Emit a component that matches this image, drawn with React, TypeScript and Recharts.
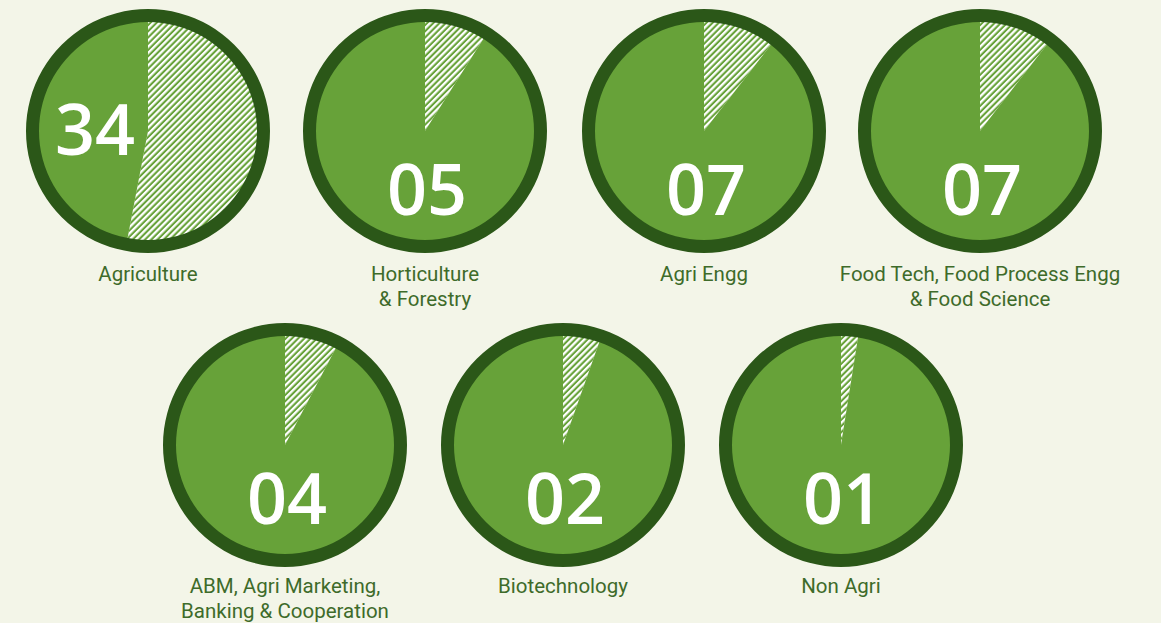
import { PieChart, Pie, Cell } from 'recharts';

const categories = [
  ['Agriculture'],
  ['Horticulture', '& Forestry'],
  ['Agri Engg'],
  ['Food Tech, Food Process Engg', '& Food Science'],
  ['ABM, Agri Marketing,', 'Banking & Cooperation'],
  ['Biotechnology'],
  ['Non Agri'],
];
// counts printed inside each circle
const counts = [34, 5, 7, 7, 4, 2, 1];
// hatched share of each circle (percent)
const shares = [53, 9, 10.5, 10.5, 7.7, 5.4, 2.5];

const BG = '#f3f5e8';
const RING = '#2b5718';
const FILL = '#67a239';
const TEXT = '#3e6b2a';

const SIZE = 260;
const R_OUT = 122;
const R_IN = 109;
const HATCH = 4.4;

// circle centres on the page
const centers = [
  { x: 148, y: 131 },
  { x: 425, y: 131 },
  { x: 704, y: 131 },
  { x: 980, y: 131 },
  { x: 285, y: 445 },
  { x: 563, y: 445 },
  { x: 841, y: 445 },
];

function Badge({ index }: { index: number }) {
  const c = centers[index];
  const share = shares[index];
  const data = [
    { name: 'hatched', value: share },
    { name: 'rest', value: 100 - share },
  ];
  const patternId = `hatch-${index}`;
  const big = index === 0;
  const numX = big ? -53 : 2;
  const numY = big ? -3 : c.y < 300 ? 57 : 52;
  const label = categories[index];

  return (
    <div
      style={{
        position: 'absolute',
        left: c.x - SIZE / 2,
        top: c.y - SIZE / 2,
        width: SIZE,
        height: SIZE,
      }}
    >
      <PieChart width={SIZE} height={SIZE} margin={{ top: 0, right: 0, bottom: 0, left: 0 }}>
        <defs>
          <pattern
            id={patternId}
            patternUnits="userSpaceOnUse"
            width={HATCH}
            height={HATCH}
            patternTransform="rotate(45)"
          >
            <rect width={HATCH} height={HATCH} fill={FILL} />
            <rect width={2.3} height={HATCH} fill="#ffffff" />
          </pattern>
        </defs>
        <Pie
          data={data}
          dataKey="value"
          cx={SIZE / 2}
          cy={SIZE / 2}
          innerRadius={0}
          outerRadius={R_IN + 1}
          startAngle={90}
          endAngle={-270}
          stroke="none"
          isAnimationActive={false}
        >
          <Cell fill={`url(#${patternId})`} />
          <Cell fill={FILL} />
        </Pie>
        <Pie
          data={[{ name: 'ring', value: 1 }]}
          dataKey="value"
          cx={SIZE / 2}
          cy={SIZE / 2}
          innerRadius={R_IN}
          outerRadius={R_OUT}
          startAngle={90}
          endAngle={-270}
          stroke="none"
          fill={RING}
          isAnimationActive={false}
        />
      </PieChart>
      <div
        style={{
          position: 'absolute',
          left: SIZE / 2 + numX - 80,
          top: SIZE / 2 + numY - 50,
          width: 160,
          height: 100,
          lineHeight: '100px',
          textAlign: 'center',
          color: '#ffffff',
          fontFamily: '"Open Sans", sans-serif',
          fontWeight: 600,
          fontSize: 70,
          pointerEvents: 'none',
        }}
      >
        {String(counts[index]).padStart(2, '0')}
      </div>
      <div
        style={{
          position: 'absolute',
          left: SIZE / 2 - 170,
          top: SIZE / 2 + (c.y < 300 ? 143 : 141) - 12.5,
          width: 340,
          textAlign: 'center',
          color: TEXT,
          fontFamily: 'Roboto, sans-serif',
          fontSize: 20.5,
          lineHeight: '25px',
        }}
      >
        {label.map((line) => (
          <div key={line}>{line}</div>
        ))}
      </div>
    </div>
  );
}

export default function App() {
  return (
    <div
      style={{
        position: 'absolute',
        left: 0,
        top: 0,
        width: 1161,
        height: 623,
        background: BG,
        overflow: 'hidden',
      }}
    >
      {counts.map((_, i) => (
        <Badge key={i} index={i} />
      ))}
    </div>
  );
}
